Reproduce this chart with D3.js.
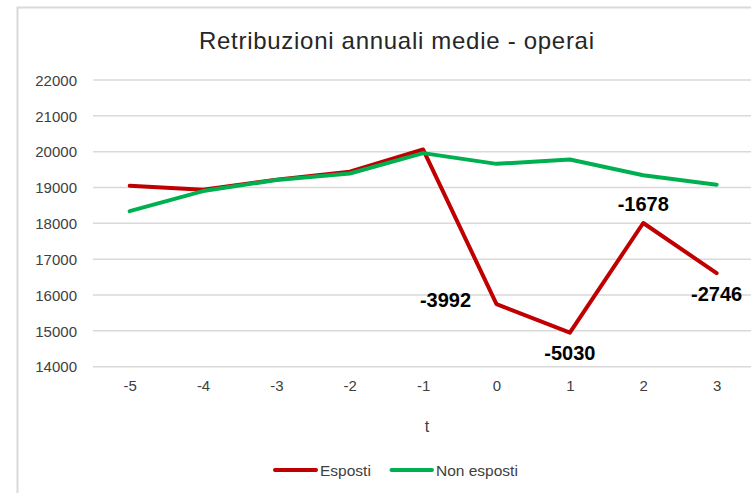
<!DOCTYPE html>
<html>
<head>
<meta charset="utf-8">
<script src="https://cdn.jsdelivr.net/npm/d3@7"></script>
<style>
  html, body { margin: 0; padding: 0; background: #fff; }
  svg { display: block; }
  text { font-family: "Liberation Sans", Arial, sans-serif; }
</style>
</head>
<body>
<svg id="chart" width="751" height="493"></svg>
<script>
// ---- data ----
const periods = [-5, -4, -3, -2, -1, 0, 1, 2, 3];
const esposti = [19050, 18940, 19220, 19440, 20060, 15745, 14950, 18010, 16610];
const nonEsposti = [18340, 18900, 19210, 19390, 19960, 19660, 19780, 19340, 19080];
const yTicks = [14000, 15000, 16000, 17000, 18000, 19000, 20000, 21000, 22000];
const diffLabels = [null, null, null, null, null, "-3992", "-5030", "-1678", "-2746"];
const diffPlacement = [null, null, null, null, null, "left", "below", "above", "below"];
const titleText = "Retribuzioni annuali medie - operai";
const xTitle = "t";
const seriesNames = ["Esposti", "Non esposti"];
const seriesColors = ["#c00000", "#00b050"];

// ---- layout ----
const svg = d3.select("#chart");
const plot = { left: 93, right: 753.3, top: 80, bottom: 366.7 };

// chart border (extends beyond viewport on right/bottom)
svg.append("rect")
  .attr("x", 17.5).attr("y", 7.5)
  .attr("width", 760).attr("height", 500)
  .attr("fill", "#fff")
  .attr("stroke", "#d9d9d9").attr("stroke-width", 2);

const x = d3.scalePoint().domain(periods).range([plot.left, plot.right]).padding(0.5);
const y = d3.scaleLinear().domain([14000, 22000]).range([plot.bottom, plot.top]);

// gridlines
svg.append("g").selectAll("line").data(yTicks).join("line")
  .attr("x1", plot.left).attr("x2", plot.right)
  .attr("y1", d => y(d)).attr("y2", d => y(d))
  .attr("stroke", "#d9d9d9").attr("stroke-width", 1.5);

// y axis labels
const yAxis = d3.axisLeft(y).tickValues(yTicks).tickSize(0).tickPadding(0).tickFormat(d3.format("d"));
const gy = svg.append("g").attr("transform", `translate(77,0)`).call(yAxis);
gy.select(".domain").remove();
gy.selectAll("text").attr("font-size", 15).attr("fill", "#404040")
  .attr("font-family", "'Liberation Sans', Arial, sans-serif").attr("dy", "0.35em");

// x axis labels
const xAxis = d3.axisBottom(x).tickSize(0).tickPadding(0);
const gx = svg.append("g").attr("transform", `translate(0,${plot.bottom + 19})`).call(xAxis);
gx.select(".domain").remove();
gx.selectAll("text").attr("font-size", 15).attr("fill", "#404040")
  .attr("font-family", "'Liberation Sans', Arial, sans-serif").attr("dy", "0.35em");

// x axis title
svg.append("text").attr("x", 427).attr("y", 432)
  .attr("text-anchor", "middle").attr("font-size", 16).attr("fill", "#404040").text(xTitle);

// title
svg.append("text").attr("x", 396.5).attr("y", 49)
  .attr("text-anchor", "middle").attr("font-size", 24).attr("fill", "#262626")
  .attr("textLength", 395).attr("lengthAdjust", "spacing")
  .text(titleText);

// lines
const line = d3.line().x((d, i) => x(periods[i])).y(d => y(d));
[esposti, nonEsposti].forEach((vals, k) => {
  svg.append("path").datum(vals)
    .attr("d", line)
    .attr("fill", "none")
    .attr("stroke", seriesColors[k])
    .attr("stroke-width", 4)
    .attr("stroke-linejoin", "round")
    .attr("stroke-linecap", "round");
});

// data labels
const lab = svg.append("g");
periods.forEach((p, i) => {
  if (!diffLabels[i]) return;
  const px = x(p), py = y(esposti[i]);
  let tx = px, ty = py;
  if (diffPlacement[i] === "left") { tx = px - 51; ty = py + 3; }
  else if (diffPlacement[i] === "below") { ty = py + 27.5; }
  else if (diffPlacement[i] === "above") { ty = py - 11.5; }
  lab.append("text").attr("x", tx).attr("y", ty)
    .attr("text-anchor", "middle").attr("font-size", 20).attr("font-weight", "bold")
    .attr("fill", "#000").text(diffLabels[i]);
});

// legend
const legendItems = [
  { x1: 275, x2: 316, tx: 320 },
  { x1: 391.5, x2: 432, tx: 436 }
];
const lg = svg.append("g");
seriesNames.forEach((name, k) => {
  const it = legendItems[k];
  lg.append("line").attr("x1", it.x1).attr("x2", it.x2).attr("y1", 470).attr("y2", 470)
    .attr("stroke", seriesColors[k]).attr("stroke-width", 4).attr("stroke-linecap", "round");
  lg.append("text").attr("x", it.tx).attr("y", 475.5).attr("font-size", 15.5)
    .attr("fill", "#404040").text(name);
});
</script>
</body>
</html>
